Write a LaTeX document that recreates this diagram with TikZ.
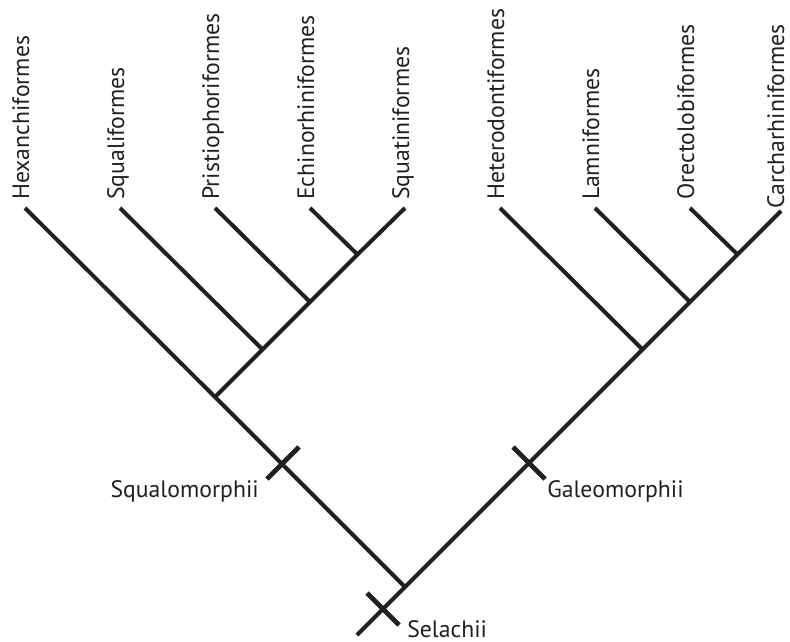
\documentclass[tikz,border=0pt]{standalone}
\usepackage{fontspec}
\setmainfont{PT Sans}
\usetikzlibrary{positioning}
\definecolor{inkdark}{RGB}{35,31,32}
\tikzset{
  branchline/.style={draw=inkdark, line width=3pt},
  tickmark/.style={draw=inkdark, line width=3.6pt},
  taxon/.style={rotate=90, anchor=base west, inner sep=0pt, text=inkdark,
                font=\fontsize{17.8}{20}\selectfont},
  clade/.style={inner sep=0pt, text=inkdark, font=\fontsize{17.8}{20}\selectfont}
}
\begin{document}
\begin{tikzpicture}[x=0.75pt, y=-0.75pt]
  \useasboundingbox (0,0) rectangle (790,642);

  % Taxon tips along the top
  \foreach \tx/\tname/\tid in {25/Hexanchiformes/hex, 120/Squaliformes/squ,
      215/Pristiophoriformes/pri, 310/Echinorhiniformes/ech, 405/Squatiniformes/sqt,
      500/Heterodontiformes/het, 595/Lamniformes/lam, 690/Orectolobiformes/ore}{
    \coordinate (\tid) at (\tx,208);
    \node[taxon] (\tid-lbl) at (\tx+4,200) {\tname};
  }
  % Carcharhiniformes sits a little lower
  \coordinate (car) at (781,211);
  \node[taxon] (car-lbl) at (784,209) {Carcharhiniformes};

  % Internal nodes
  \coordinate (root)   at (405,587);
  \coordinate (base)   at (357,635);
  \coordinate (squalo) at (215,397);
  \coordinate (n1)     at (262.5,349.5);
  \coordinate (n2)     at (310,302);
  \coordinate (n3)     at (357.5,254.5);
  \coordinate (galeo)  at (642.5,349.5);
  \coordinate (g1)     at (690,302);
  \coordinate (g2)     at (737.5,254.5);

  % Branches
  \draw[branchline] (car) -- (g2) -- (g1) -- (galeo) -- (root) -- (base);
  \draw[branchline] (hex) -- (squalo) -- (root);
  \draw[branchline] (sqt) -- (n3) -- (n2) -- (n1) -- (squalo);
  \draw[branchline] (squ) -- (n1);
  \draw[branchline] (pri) -- (n2);
  \draw[branchline] (ech) -- (n3);
  \draw[branchline] (het) -- (galeo);
  \draw[branchline] (lam) -- (g1);
  \draw[branchline] (ore) -- (g2);

  % Clade marks
  \coordinate (sqm) at (283,463);
  \coordinate (glm) at (529,463);
  \coordinate (sel) at (383,609);
  \draw[tickmark] (sqm) ++(-16,16) -- ++(32,-32);
  \draw[tickmark] (glm) ++(-16,-16) -- ++(32,32);
  \draw[tickmark] (sel) ++(-16,-16) -- ++(32,32);

  \node[clade, anchor=base east] (sqm-lbl) at (259,497) {Squalomorphii};
  \node[clade, anchor=base west] (glm-lbl) at (547,497) {Galeomorphii};
  \node[clade, anchor=base west] (sel-lbl) at (407,637) {Selachii};
\end{tikzpicture}
\end{document}
